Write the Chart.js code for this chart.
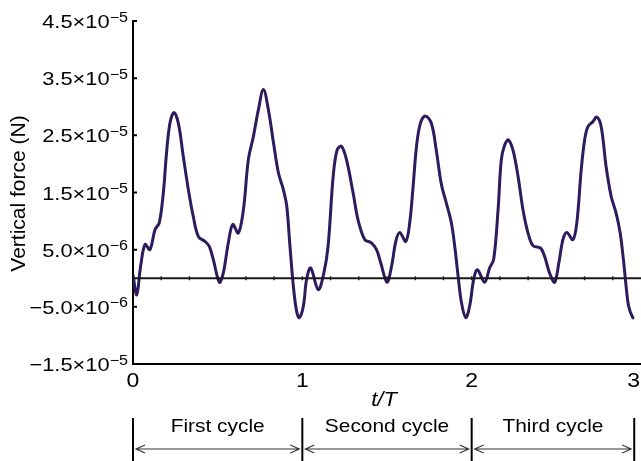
<!DOCTYPE html>
<html>
<head>
<meta charset="utf-8">
<script src="https://cdn.jsdelivr.net/npm/chart.js@4.4.1/dist/chart.umd.min.js"></script>
<style>
  html, body { margin: 0; padding: 0; background: #fff; overflow: hidden; }
</style>
</head>
<body>
<canvas id="c" width="641" height="461"></canvas>
<script>
// Time, as a fraction of the flapping period (t/T)
const tOverT = [
  0.000, 0.022, 0.045, 0.071, 0.100, 0.130, 0.155, 0.179, 0.198, 0.218,
  0.242, 0.268, 0.297, 0.327, 0.356, 0.386, 0.425, 0.450, 0.474, 0.510,
  0.533, 0.563, 0.589, 0.622, 0.652, 0.681, 0.711, 0.740, 0.770, 0.800,
  0.830, 0.859, 0.888, 0.908, 0.927, 0.947, 0.966, 0.982, 1.006, 1.025,
  1.049, 1.094, 1.127, 1.152, 1.182, 1.205, 1.231, 1.261, 1.300, 1.329,
  1.369, 1.408, 1.438, 1.462, 1.500, 1.527, 1.552, 1.575, 1.611, 1.634,
  1.654, 1.674, 1.697, 1.726, 1.762, 1.791, 1.820, 1.850, 1.880, 1.900,
  1.920, 1.940, 1.965, 1.988, 2.012, 2.034, 2.077, 2.106, 2.130, 2.156,
  2.175, 2.195, 2.217, 2.244, 2.274, 2.303, 2.333, 2.362, 2.406, 2.431,
  2.460, 2.490, 2.515, 2.539, 2.562, 2.598, 2.621, 2.647, 2.667, 2.686,
  2.716, 2.739, 2.765, 2.794, 2.824, 2.853, 2.877, 2.896, 2.912, 2.927,
  2.951, 2.960
];

// Vertical force, in micronewtons (1e-6 N)
const forceMicroN = [
  0.6, -2.9, 2.1, 5.9, 5.0, 8.5, 9.7, 14.9, 21.9, 27.1,
  29.0, 27.1, 21.3, 15.5, 10.8, 7.3, 6.45, 5.6, 3.3, -0.7,
  0.9, 6.2, 9.4, 7.9, 12.0, 20.7, 24.8, 29.4, 33.0, 29.4,
  23.6, 18.4, 15.5, 12.6, 5.6, -1.4, -5.75, -6.9, -4.9, -0.2,
  1.8, -2.0, 0.9, 5.6, 17.8, 22.4, 23.1, 20.7, 14.9, 10.2,
  6.75, 6.2, 5.0, 2.8, -0.7, 2.1, 6.45, 8.0, 6.45, 9.7,
  16.0, 23.0, 27.1, 28.4, 27.1, 22.4, 16.6, 13.2, 9.7, 5.6,
  0.35, -4.3, -6.9, -4.9, -0.2, 1.5, -0.7, 1.8, 3.3, 12.0,
  20.7, 23.3, 24.2, 22.4, 17.8, 12.0, 7.9, 5.7, 5.3, 3.8,
  0.9, -0.7, 2.7, 6.75, 8.0, 6.75, 9.7, 19.0, 24.2, 26.5,
  27.4, 28.2, 26.5, 19.5, 14.3, 11.4, 7.9, 3.3, -1.4, -4.9,
  -6.9, -6.9
];

// Axis ticks
const yTicks = [-1.5e-5, -5e-6, 5e-6, 1.5e-5, 2.5e-5, 3.5e-5, 4.5e-5];
const xTicks = [0, 1, 2, 3];
const zeroLineTickStep = 1 / 6;

// Cycle annotation below the axis
const cycleNames = ["First cycle", "Second cycle", "Third cycle"];
const cycleBounds = [0, 1, 2, 2.96];

const FONT = '"Liberation Sans", Arial, Helvetica, sans-serif';
const INK = '#000';

function stretchedText(ctx, txt, x, y, font, align, sx) {
  ctx.save();
  ctx.font = font;
  const w = ctx.measureText(txt).width * sx;
  let left = x;
  if (align === 'center') left = x - w / 2;
  else if (align === 'right') left = x - w;
  ctx.translate(left, y);
  ctx.scale(sx, 1);
  ctx.textAlign = 'left';
  ctx.fillText(txt, 0, 0);
  ctx.restore();
  return w;
}

function textWidth(ctx, txt, font, sx) {
  ctx.save();
  ctx.font = font;
  const w = ctx.measureText(txt).width * sx;
  ctx.restore();
  return w;
}

function sciParts(v) {
  const [m, e] = v.toExponential(1).split('e');
  return [m.replace('-', '\u2212'), e.replace('-', '\u2212').replace('+', '')];
}

const decorations = {
  id: 'decorations',
  afterDatasetsDraw(chart) {
    const { ctx, chartArea: a, scales: { x, y } } = chart;
    ctx.save();
    ctx.fillStyle = INK;
    ctx.strokeStyle = INK;
    ctx.textBaseline = 'alphabetic';

    // zero reference line with small ticks
    const y0 = y.getPixelForValue(0);
    ctx.strokeStyle = '#1a1a1a';
    ctx.lineWidth = 1.8;
    ctx.beginPath();
    ctx.moveTo(a.left, y0);
    ctx.lineTo(a.right, y0);
    ctx.stroke();
    ctx.lineWidth = 1.4;
    ctx.beginPath();
    for (let k = 1; k * zeroLineTickStep < 3 - 1e-9; k++) {
      const px = x.getPixelForValue(k * zeroLineTickStep);
      ctx.moveTo(px, y0 - 2);
      ctx.lineTo(px, y0 + 2);
    }
    ctx.stroke();

    // inward ticks on the force axis
    ctx.strokeStyle = INK;
    ctx.lineWidth = 2;
    ctx.beginPath();
    yTicks.forEach(v => {
      const py = y.getPixelForValue(v);
      ctx.moveTo(a.left, py);
      ctx.lineTo(a.left + 4, py);
    });
    ctx.stroke();

    // force tick labels, a × 10^b
    const mainFont = `19px ${FONT}`, supFont = `14px ${FONT}`, sxTick = 1.15;
    yTicks.forEach(v => {
      const py = y.getPixelForValue(v);
      const [m, e] = sciParts(v);
      const ew = textWidth(ctx, e, supFont, sxTick);
      const right = a.left - 5;
      stretchedText(ctx, e, right - ew, py + 0.5, supFont, 'left', sxTick);
      stretchedText(ctx, m + '\u00d710', right - ew, py + 7, mainFont, 'right', sxTick);
    });

    // axis title, rotated
    ctx.save();
    ctx.translate(25, (a.top + a.bottom) / 2 + 1);
    ctx.rotate(-Math.PI / 2);
    ctx.font = `21px ${FONT}`;
    ctx.textAlign = 'center';
    ctx.fillText('Vertical force (N)', 0, 0);
    ctx.restore();

    // time tick labels
    const W = chart.width;
    const xFont = `20px ${FONT}`;
    xTicks.forEach(v => {
      const px = x.getPixelForValue(v);
      const w = textWidth(ctx, String(v), xFont, 1.15);
      const cx = Math.min(px, W - w / 2 - 1);
      stretchedText(ctx, String(v), cx, a.bottom + 23, xFont, 'center', 1.15);
    });

    // time axis title
    stretchedText(ctx, 't/T', (a.left + a.right) / 2 - 3, a.bottom + 42, `italic 20px ${FONT}`, 'center', 1.1);

    // cycle brackets with double-headed arrows
    const barTop = a.bottom + 54, barBot = chart.height;
    const arrowY = a.bottom + 85;
    const bx = cycleBounds.map(v => x.getPixelForValue(v));
    ctx.strokeStyle = INK;
    ctx.lineWidth = 2;
    ctx.beginPath();
    bx.forEach(px => { ctx.moveTo(px, barTop); ctx.lineTo(px, barBot); });
    ctx.stroke();

    ctx.strokeStyle = '#333';
    ctx.lineWidth = 1.1;
    cycleNames.forEach((name, i) => {
      const l = bx[i] + 3, r = bx[i + 1] - 3;
      ctx.beginPath();
      ctx.moveTo(l, arrowY); ctx.lineTo(r, arrowY);
      ctx.moveTo(l + 9, arrowY - 4); ctx.lineTo(l, arrowY); ctx.lineTo(l + 9, arrowY + 4);
      ctx.moveTo(r - 9, arrowY - 4); ctx.lineTo(r, arrowY); ctx.lineTo(r - 9, arrowY + 4);
      ctx.stroke();
      ctx.fillStyle = INK;
      stretchedText(ctx, name, (bx[i] + bx[i + 1]) / 2, a.bottom + 68, `19px ${FONT}`, 'center', 1.1);
    });

    ctx.restore();
  }
};

new Chart(document.getElementById('c'), {
  type: 'line',
  data: {
    datasets: [{
      data: tOverT.map((t, i) => ({ x: t, y: forceMicroN[i] * 1e-6 })),
      borderColor: '#2d1b5e',
      borderWidth: 3,
      pointRadius: 0,
      fill: false,
      tension: 0.35
    }]
  },
  options: {
    responsive: false,
    animation: false,
    devicePixelRatio: 1,
    layout: { padding: { left: 133, top: 21, right: 0, bottom: 97 } },
    plugins: { legend: { display: false }, tooltip: { enabled: false } },
    scales: {
      x: {
        type: 'linear', min: 0, max: 3,
        grid: { display: false, drawTicks: false },
        ticks: { display: false },
        border: { display: true, color: INK, width: 2 }
      },
      y: {
        type: 'linear', min: -1.5e-5, max: 4.5e-5,
        grid: { display: false, drawTicks: false },
        ticks: { display: false },
        border: { display: true, color: INK, width: 2 }
      }
    }
  },
  plugins: [decorations]
});
</script>
</body>
</html>
